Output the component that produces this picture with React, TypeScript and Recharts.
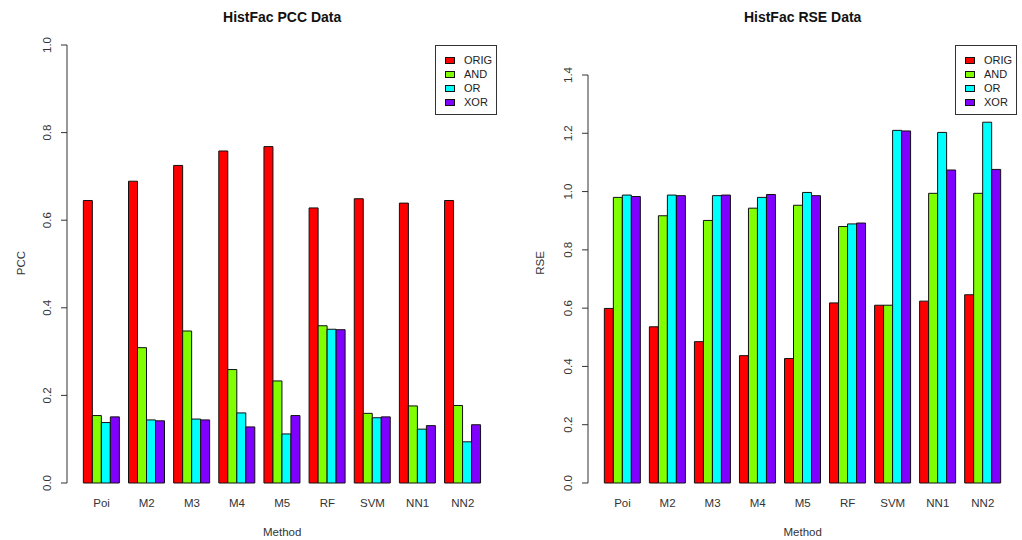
import React from "react";
import { BarChart, Bar, XAxis, YAxis, Legend } from "recharts";

// categories and series
const METHODS = ["Poi", "M2", "M3", "M4", "M5", "RF", "SVM", "NN1", "NN2"];
const SERIES = ["ORIG", "AND", "OR", "XOR"];
const COLORS = ["#FF0000", "#80FF00", "#00FFFF", "#8000FF"]; // rainbow(4)

// PCC values
const PCC_ORIG = [0.645, 0.689, 0.725, 0.758, 0.768, 0.628, 0.649, 0.639, 0.645];
const PCC_AND = [0.154, 0.309, 0.347, 0.259, 0.233, 0.359, 0.159, 0.176, 0.177];
const PCC_OR = [0.138, 0.144, 0.146, 0.160, 0.112, 0.351, 0.149, 0.123, 0.094];
const PCC_XOR = [0.151, 0.142, 0.144, 0.128, 0.154, 0.350, 0.151, 0.131, 0.133];

// RSE values
const RSE_ORIG = [0.599, 0.536, 0.485, 0.437, 0.427, 0.618, 0.610, 0.624, 0.646];
const RSE_AND = [0.980, 0.917, 0.901, 0.943, 0.953, 0.880, 0.610, 0.994, 0.994];
const RSE_OR = [0.988, 0.988, 0.986, 0.980, 0.997, 0.889, 1.210, 1.203, 1.238];
const RSE_XOR = [0.983, 0.986, 0.988, 0.990, 0.986, 0.892, 1.208, 1.074, 1.076];

const PCC_TICKS = [0, 0.2, 0.4, 0.6, 0.8, 1.0];
const RSE_TICKS = [0, 0.2, 0.4, 0.6, 0.8, 1.0, 1.2, 1.4];

const buildRows = (cols: number[][]) =>
  METHODS.map((name, i) => {
    const row: Record<string, string | number> = { name };
    SERIES.forEach((s, j) => (row[s] = cols[j][i]));
    return row;
  });

const PCC_DATA = buildRows([PCC_ORIG, PCC_AND, PCC_OR, PCC_XOR]);
const RSE_DATA = buildRows([RSE_ORIG, RSE_AND, RSE_OR, RSE_XOR]);

const FONT = '"Liberation Sans", Arial, sans-serif';
const TXT = "#333";

const YTick = ({ x, y, payload }: any) => (
  <text
    transform={`translate(${x - 8},${y}) rotate(-90)`}
    textAnchor="middle"
    fontSize={11.5}
    fill={TXT}
    fontFamily={FONT}
  >
    {Number(payload.value).toFixed(1)}
  </text>
);

const XTick = ({ x, y, payload }: any) => (
  <text x={x} y={y} dy="0.71em" textAnchor="middle" fontSize={11.5} fill={TXT} fontFamily={FONT}>
    {payload.value}
  </text>
);

const LegendBox = () => (
  <div
    style={{
      width: 62, height: 70, boxSizing: "border-box", border: "1px solid #333",
      background: "#fff", paddingTop: 7, fontFamily: FONT, fontSize: 11, color: "#222",
    }}
  >
    {SERIES.map((s, i) => (
      <div key={s} style={{ height: 14, display: "flex", alignItems: "center" }}>
        <div style={{
          width: 10, height: 7, boxSizing: "border-box", marginLeft: 9, marginRight: 9,
          background: COLORS[i], border: "1px solid #111",
        }} />
        <span>{s}</span>
      </div>
    ))}
  </div>
);

type PanelProps = {
  left: number;
  title: string;
  yLabel: string;
  data: Record<string, string | number>[];
  ticks: number[];
  margin: { top: number; right: number; bottom: number; left: number };
  legendLeft: number;
  labelX: number;
};

function Panel({ left, title, yLabel, data, ticks, margin, legendLeft, labelX }: PanelProps) {
  // horizontal centre of the bars, for title and x label
  const plotLeft = margin.left + 30 + 12;
  const centre = plotLeft + (511 - plotLeft - margin.right) / 2;
  return (
    <div style={{ position: "absolute", left, top: 0, width: 511, height: 540 }}>
      <div style={{
        position: "absolute", top: 9, left: 0, width: 2 * centre, textAlign: "center",
        fontWeight: 700, fontSize: 14, lineHeight: "16px", color: "#111",
      }}>
        {title}
      </div>
      <BarChart width={511} height={540} data={data} margin={margin} barCategoryGap={4.35} barGap={0}>
        <XAxis
          dataKey="name"
          interval={0}
          height={30}
          tickLine={false}
          axisLine={false}
          tickSize={6}
          tickMargin={10}
          padding={{ left: 12, right: 0 }}
          tick={<XTick />}
        />
        <YAxis
          type="number"
          width={30}
          domain={[ticks[0], ticks[ticks.length - 1]]}
          ticks={ticks}
          interval={0}
          tickSize={6}
          stroke={TXT}
          tick={<YTick />}
        />
        <Legend
          layout="vertical"
          align="center"
          verticalAlign="middle"
          content={<LegendBox />}
          wrapperStyle={{ position: "absolute", left: legendLeft, top: 45, width: 62 }}
        />
        {SERIES.map((s, i) => (
          <Bar key={s} dataKey={s} fill={COLORS[i]} stroke="#111" strokeWidth={1} isAnimationActive={false} />
        ))}
      </BarChart>
      <div style={{
        position: "absolute", left: labelX, top: 263, transform: "translate(-50%,-50%) rotate(-90deg)",
        fontSize: 11.5, color: TXT, whiteSpace: "nowrap",
      }}>
        {yLabel}
      </div>
      <div style={{
        position: "absolute", top: 525, left: 0, width: 2 * centre, textAlign: "center",
        fontSize: 11.5, lineHeight: "14px", color: TXT,
      }}>
        Method
      </div>
    </div>
  );
}

export default function App() {
  return (
    <div style={{
      position: "absolute", left: 0, top: 0, width: 1022, height: 540,
      background: "#fff", fontFamily: FONT, overflow: "hidden",
    }}>
      <Panel
        left={0}
        title="HistFac PCC Data"
        yLabel="PCC"
        data={PCC_DATA}
        ticks={PCC_TICKS}
        margin={{ top: 45, right: 25.65, bottom: 27, left: 37 }}
        legendLeft={435}
        labelX={21}
      />
      <Panel
        left={511}
        title="HistFac RSE Data"
        yLabel="RSE"
        data={RSE_DATA}
        ticks={RSE_TICKS}
        margin={{ top: 75, right: 16.65, bottom: 27, left: 47 }}
        legendLeft={444}
        labelX={29}
      />
    </div>
  );
}
